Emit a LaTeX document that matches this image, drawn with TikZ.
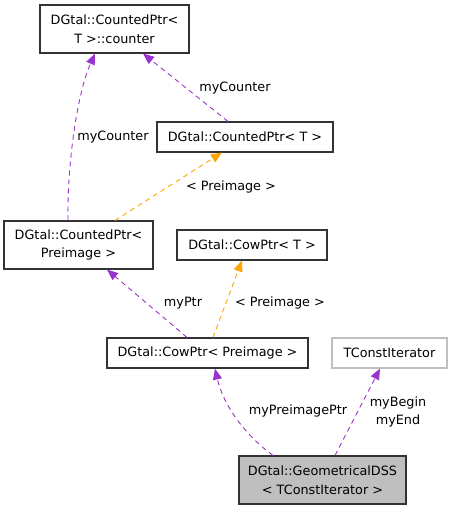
\documentclass[tikz,border=0pt]{standalone}
\usepackage{fontspec}
\setmainfont{DejaVu Sans}
\usetikzlibrary{arrows.meta}
\definecolor{mPurple}{HTML}{9A32CD}
\definecolor{mOrange}{HTML}{FFA500}
\definecolor{mGray}{HTML}{BFBFBF}

\begin{document}
\begin{tikzpicture}[x=1pt, y=-1pt,
    every node/.style={font=\fontsize{12.8}{18.5}\selectfont, inner sep=0pt},
    cls/.style={draw=black!80, line width=1.1pt, align=center},
    member/.style={mPurple, line width=0.9pt, dash pattern=on 5pt off 4pt, -{Triangle[length=11pt, width=9pt]}},
    tmpl/.style={mOrange, line width=0.9pt, dash pattern=on 5pt off 4pt, -{Triangle[length=11pt, width=9pt]}}]
    \useasboundingbox (0,0) rectangle (452,512);

    \node[cls, minimum width=149, minimum height=48] (counter) at (114.5,29) {DGtal::CountedPtr<\\T >::counter};
    \node[cls, minimum width=176, minimum height=30] (ctdT) at (245,137) {DGtal::CountedPtr< T >};
    \node[cls, minimum width=149, minimum height=48] (ctdPre) at (78.5,245) {DGtal::CountedPtr<\\Preimage >};
    \node[cls, minimum width=150, minimum height=30] (cowT) at (252,245) {DGtal::CowPtr< T >};
    \node[cls, minimum width=201, minimum height=30] (cowPre) at (207.5,353) {DGtal::CowPtr< Preimage >};
    \node[cls, draw=mGray, minimum width=115, minimum height=30] (tcit) at (389.5,353) {TConstIterator};
    \node[cls, fill=mGray, minimum width=167, minimum height=48] (gdss) at (322.5,480) {DGtal::GeometricalDSS\\< TConstIterator >};

    \draw[member] ([xshift=-17]ctdT.north) -- ([xshift=28.5]counter.south);
    \node (lCtr) at (235,88) {myCounter};
    \draw[member] ([xshift=-10.5]ctdPre.north) .. controls +(-1,-55) and +(-18,40) .. ([xshift=-19.5]counter.south);
    \node (lCtrPre) at (113,137) {myCounter};
    \draw[tmpl] ([xshift=36.5]ctdPre.north) -- ([xshift=-23]ctdT.south);
    \node (lPreA) at (231,187) {< Preimage >};
    \draw[member] ([xshift=-20.5]cowPre.north) -- ([xshift=28.5]ctdPre.south);
    \node (lPtr) at (183,303) {myPtr};
    \draw[tmpl] ([xshift=5.5]cowPre.north) -- ([xshift=-10]cowT.south);
    \node (lPreB) at (280,303) {< Preimage >};
    \draw[member] ([xshift=-49.5]gdss.north) .. controls +(-30,-22) and +(8,35) .. ([xshift=7.5]cowPre.south);
    \node (lPrePtr) at (298,411) {myPreimagePtr};
    \draw[member] ([xshift=12.5]gdss.north) -- ([xshift=-9.5]tcit.south);
    \node[align=center] (lBegin) at (398,412) {myBegin\\myEnd};
\end{tikzpicture}
\end{document}
